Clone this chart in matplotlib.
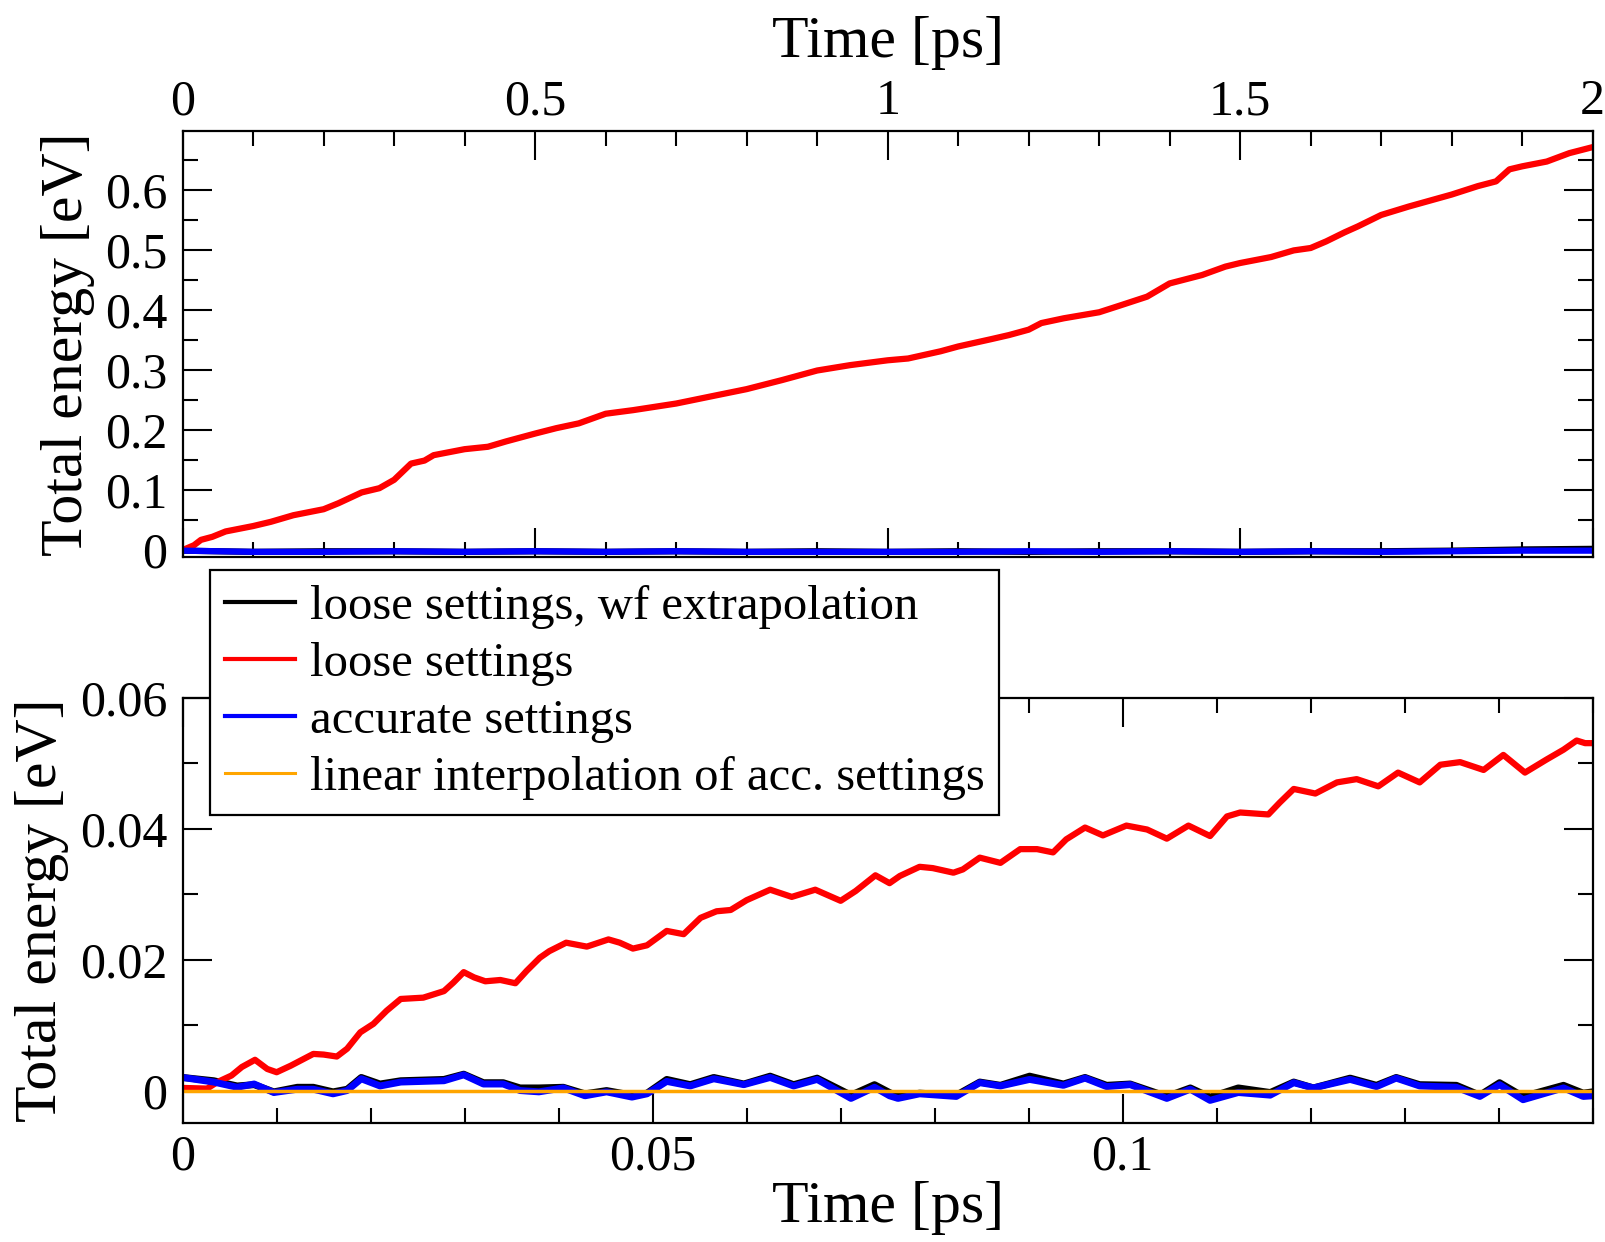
import numpy as np
import matplotlib
matplotlib.use("Agg")
import matplotlib.pyplot as plt
from matplotlib.ticker import MultipleLocator, FormatStrFormatter

plt.rcParams['font.family'] = ['Liberation Serif', 'DejaVu Serif']
plt.rcParams['font.size'] = 36

# long run (2 ps)
t_long = [0.000, 0.016, 0.026, 0.042, 0.061, 0.100, 0.125, 0.157, 0.200, 0.221,
          0.254, 0.279, 0.300, 0.324, 0.343, 0.356, 0.400, 0.433, 0.459, 0.500,
          0.530, 0.562, 0.600, 0.639, 0.700, 0.754, 0.800, 0.850, 0.900, 0.947,
          1.000, 1.029, 1.075, 1.100, 1.146, 1.172, 1.200, 1.218, 1.250, 1.300,
          1.329, 1.368, 1.400, 1.446, 1.479, 1.500, 1.544, 1.576, 1.600, 1.622,
          1.648, 1.667, 1.700, 1.739, 1.800, 1.837, 1.863, 1.882, 1.900, 1.935,
          1.967, 2.000]
e_loose_long = [0.000, 0.008, 0.017, 0.022, 0.031, 0.040, 0.047, 0.058, 0.068, 0.078,
                0.096, 0.103, 0.117, 0.144, 0.149, 0.158, 0.168, 0.172, 0.181, 0.194,
                0.203, 0.211, 0.227, 0.233, 0.244, 0.257, 0.268, 0.283, 0.299, 0.308,
                0.316, 0.319, 0.331, 0.339, 0.351, 0.358, 0.367, 0.378, 0.386, 0.396,
                0.407, 0.422, 0.444, 0.458, 0.472, 0.478, 0.488, 0.499, 0.503, 0.514,
                0.529, 0.539, 0.558, 0.572, 0.592, 0.606, 0.614, 0.634, 0.639, 0.647,
                0.661, 0.671]

t_long_acc = [0.0, 0.1, 0.2, 0.3, 0.4, 0.5, 0.6, 0.7, 0.8, 0.9, 1.0,
              1.1, 1.2, 1.3, 1.4, 1.5, 1.6, 1.7, 1.8, 1.9, 2.0]
e_extrap_long = [-0.001, -0.003, -0.002, -0.002, -0.003, -0.002, -0.003, -0.002, -0.003, -0.002, -0.003,
                 -0.002, -0.003, -0.002, -0.002, -0.003, -0.002, -0.002, -0.001, 0.001, 0.002]
e_acc_long = [-0.001, -0.003, -0.003, -0.002, -0.003, -0.002, -0.003, -0.002, -0.003, -0.003, -0.003,
              -0.003, -0.002, -0.003, -0.002, -0.003, -0.002, -0.003, -0.002, -0.001, -0.001]

# short run (0.15 ps)
t_loose = [0.0, 0.0026, 0.0037, 0.0052, 0.0063, 0.0077, 0.0090, 0.0100, 0.0115, 0.0139,
           0.0150, 0.0164, 0.0175, 0.0189, 0.0203, 0.0217, 0.0232, 0.0256, 0.0278, 0.0288,
           0.0299, 0.0310, 0.0322, 0.0338, 0.0354, 0.0366, 0.0380, 0.0390, 0.0408, 0.0430,
           0.0453, 0.0465, 0.0479, 0.0494, 0.0515, 0.0533, 0.0551, 0.0568, 0.0583, 0.0600,
           0.0625, 0.0648, 0.0673, 0.0700, 0.0716, 0.0737, 0.0752, 0.0763, 0.0784, 0.0798,
           0.0820, 0.0830, 0.0848, 0.0870, 0.0891, 0.0909, 0.0926, 0.0940, 0.0960, 0.0979,
           0.1004, 0.1026, 0.1047, 0.1070, 0.1093, 0.1111, 0.1125, 0.1155, 0.1167, 0.1182,
           0.1205, 0.1228, 0.1249, 0.1272, 0.1293, 0.1316, 0.1338, 0.1359, 0.1384, 0.1405,
           0.1428, 0.1451, 0.1469, 0.1483, 0.1492, 0.1500]
e_loose = [0.0004, 0.0003, 0.0013, 0.0023, 0.0036, 0.0047, 0.0033, 0.0028, 0.0038, 0.0056,
           0.0055, 0.0052, 0.0064, 0.0089, 0.0102, 0.0122, 0.0140, 0.0142, 0.0152, 0.0165,
           0.0181, 0.0173, 0.0167, 0.0169, 0.0164, 0.0183, 0.0203, 0.0213, 0.0226, 0.0220,
           0.0231, 0.0226, 0.0217, 0.0222, 0.0244, 0.0239, 0.0264, 0.0274, 0.0276, 0.0291,
           0.0307, 0.0296, 0.0307, 0.0290, 0.0305, 0.0329, 0.0317, 0.0328, 0.0342, 0.0340,
           0.0333, 0.0338, 0.0356, 0.0348, 0.0369, 0.0369, 0.0364, 0.0384, 0.0402, 0.0390,
           0.0405, 0.0399, 0.0385, 0.0405, 0.0389, 0.0419, 0.0425, 0.0422, 0.0440, 0.0461,
           0.0454, 0.0471, 0.0476, 0.0465, 0.0486, 0.0471, 0.0498, 0.0502, 0.0490, 0.0513,
           0.0486, 0.0506, 0.0521, 0.0535, 0.0531, 0.0531]

t_short = [0.0, 0.0033, 0.0058, 0.0076, 0.0097, 0.0122, 0.0139, 0.0160, 0.0175, 0.0190,
           0.0210, 0.0232, 0.0278, 0.0299, 0.0320, 0.0341, 0.0359, 0.0379, 0.0405, 0.0428,
           0.0451, 0.0478, 0.0494, 0.0515, 0.0540, 0.0565, 0.0597, 0.0625, 0.0650, 0.0675,
           0.0711, 0.0736, 0.0752, 0.0761, 0.0784, 0.0823, 0.0848, 0.0870, 0.0901, 0.0937,
           0.0960, 0.0983, 0.1008, 0.1047, 0.1072, 0.1093, 0.1123, 0.1157, 0.1182, 0.1203,
           0.1242, 0.1270, 0.1291, 0.1316, 0.1355, 0.1380, 0.1401, 0.1426, 0.1469, 0.1490,
           0.1500]
e_extrap = [0.0020, 0.0015, 0.0007, 0.0009, -0.0002, 0.0005, 0.0005, -0.0002, 0.0002, 0.0020,
            0.0010, 0.0015, 0.0017, 0.0025, 0.0012, 0.0012, 0.0004, 0.0004, 0.0005, -0.0005,
            0.0000, -0.0007, -0.0004, 0.0017, 0.0009, 0.0020, 0.0010, 0.0022, 0.0009, 0.0019,
            -0.0007, 0.0009, -0.0003, -0.0009, -0.0004, -0.0007, 0.0013, 0.0008, 0.0022, 0.0010,
            0.0020, 0.0008, 0.0010, -0.0009, 0.0004, -0.0010, 0.0004, -0.0003, 0.0013, 0.0004,
            0.0019, 0.0008, 0.0020, 0.0009, 0.0008, -0.0007, 0.0012, -0.0009, 0.0008, -0.0004,
            -0.0002]
e_acc = [0.0020, 0.0013, 0.0005, 0.0010, -0.0003, 0.0002, 0.0002, -0.0005, 0.0000, 0.0018,
         0.0007, 0.0013, 0.0015, 0.0024, 0.0010, 0.0010, 0.0000, -0.0002, 0.0004, -0.0008,
         -0.0002, -0.0010, -0.0005, 0.0014, 0.0007, 0.0018, 0.0009, 0.0020, 0.0007, 0.0017,
         -0.0012, 0.0005, -0.0008, -0.0012, -0.0005, -0.0009, 0.0012, 0.0007, 0.0017, 0.0008,
         0.0019, 0.0006, 0.0009, -0.0012, 0.0002, -0.0015, -0.0003, -0.0007, 0.0012, 0.0004,
         0.0017, 0.0006, 0.0019, 0.0007, 0.0005, -0.0009, 0.0009, -0.0014, 0.0004, -0.0009,
         -0.0008]
t_lin = [0.0, 0.15]
e_lin = [0.0, 0.0]

labels = ['loose settings, wf extrapolation', 'loose settings',
          'accurate settings', 'linear interpolation of acc. settings']


def style_axes(ax):
    for s in ax.spines.values():
        s.set_linewidth(1.6)
    ax.tick_params(which='both', direction='in', top=True, right=True, width=1.5)
    ax.tick_params(which='major', length=21, pad=11)
    ax.tick_params(which='minor', length=10.5)


fig = plt.figure(figsize=(16.05, 12.42), dpi=100)
ax1 = fig.add_axes([0.1138, 0.5518, 0.8785, 0.3428])
ax2 = fig.add_axes([0.1138, 0.0956, 0.8785, 0.3424])

# upper panel
ax1.plot(t_long_acc, e_extrap_long, color='black', lw=4.5)
ax1.plot(t_long, e_loose_long, color='red', lw=4.5)
ax1.plot(t_long_acc, e_acc_long, color='blue', lw=4.5)
ax1.set_xlim(0, 2)
ax1.set_ylim(-0.011, 0.698)
ax1.xaxis.set_major_locator(MultipleLocator(0.5))
ax1.xaxis.set_minor_locator(MultipleLocator(0.1))
ax1.xaxis.set_major_formatter(FormatStrFormatter('%g'))
ax1.set_yticks([0, 0.1, 0.2, 0.3, 0.4, 0.5, 0.6])
ax1.yaxis.set_minor_locator(MultipleLocator(0.05))
ax1.yaxis.set_major_formatter(FormatStrFormatter('%g'))
style_axes(ax1)
ax1.tick_params(axis='x', which='major', pad=4)
ax1.tick_params(labelbottom=False, labeltop=True)
ax1.xaxis.set_label_position('top')
ax1.set_xlabel('Time [ps]', fontsize=43, labelpad=16)
ax1.set_ylabel('Total energy [eV]', fontsize=43, labelpad=7)

# lower panel
l1, = ax2.plot(t_short, e_extrap, color='black', lw=5)
l2, = ax2.plot(t_loose, e_loose, color='red', lw=4.5)
l3, = ax2.plot(t_short, e_acc, color='blue', lw=5)
l4, = ax2.plot(t_lin, e_lin, color='orange', lw=2.5)
ax2.set_xlim(0, 0.15)
ax2.set_ylim(-0.005, 0.06)
ax2.set_xticks([0, 0.05, 0.1])
ax2.xaxis.set_minor_locator(MultipleLocator(0.01))
ax2.xaxis.set_major_formatter(FormatStrFormatter('%g'))
ax2.set_yticks([0, 0.02, 0.04, 0.06])
ax2.yaxis.set_minor_locator(MultipleLocator(0.01))
ax2.yaxis.set_major_formatter(FormatStrFormatter('%g'))
style_axes(ax2)
ax2.tick_params(axis='x', which='major', pad=8)
ax2.set_xlabel('Time [ps]', fontsize=43, labelpad=0)
ax2.set_ylabel('Total energy [eV]', fontsize=43, labelpad=8)

leg = ax2.legend([l1, l2, l3, l4], labels, loc='upper left',
                 bbox_to_anchor=(0.1308, 0.5411), bbox_transform=fig.transFigure,
                 fancybox=False, framealpha=1, edgecolor='black',
                 handlelength=1.45, handletextpad=0.3, borderpad=0.3,
                 labelspacing=0.27, borderaxespad=0, fontsize=35)
leg.get_frame().set_linewidth(1.6)
for line in leg.get_lines():
    line.set_linewidth(3)
leg.get_lines()[3].set_linewidth(2.2)
leg.set_zorder(10)

fig.savefig('out.png', dpi=100)
